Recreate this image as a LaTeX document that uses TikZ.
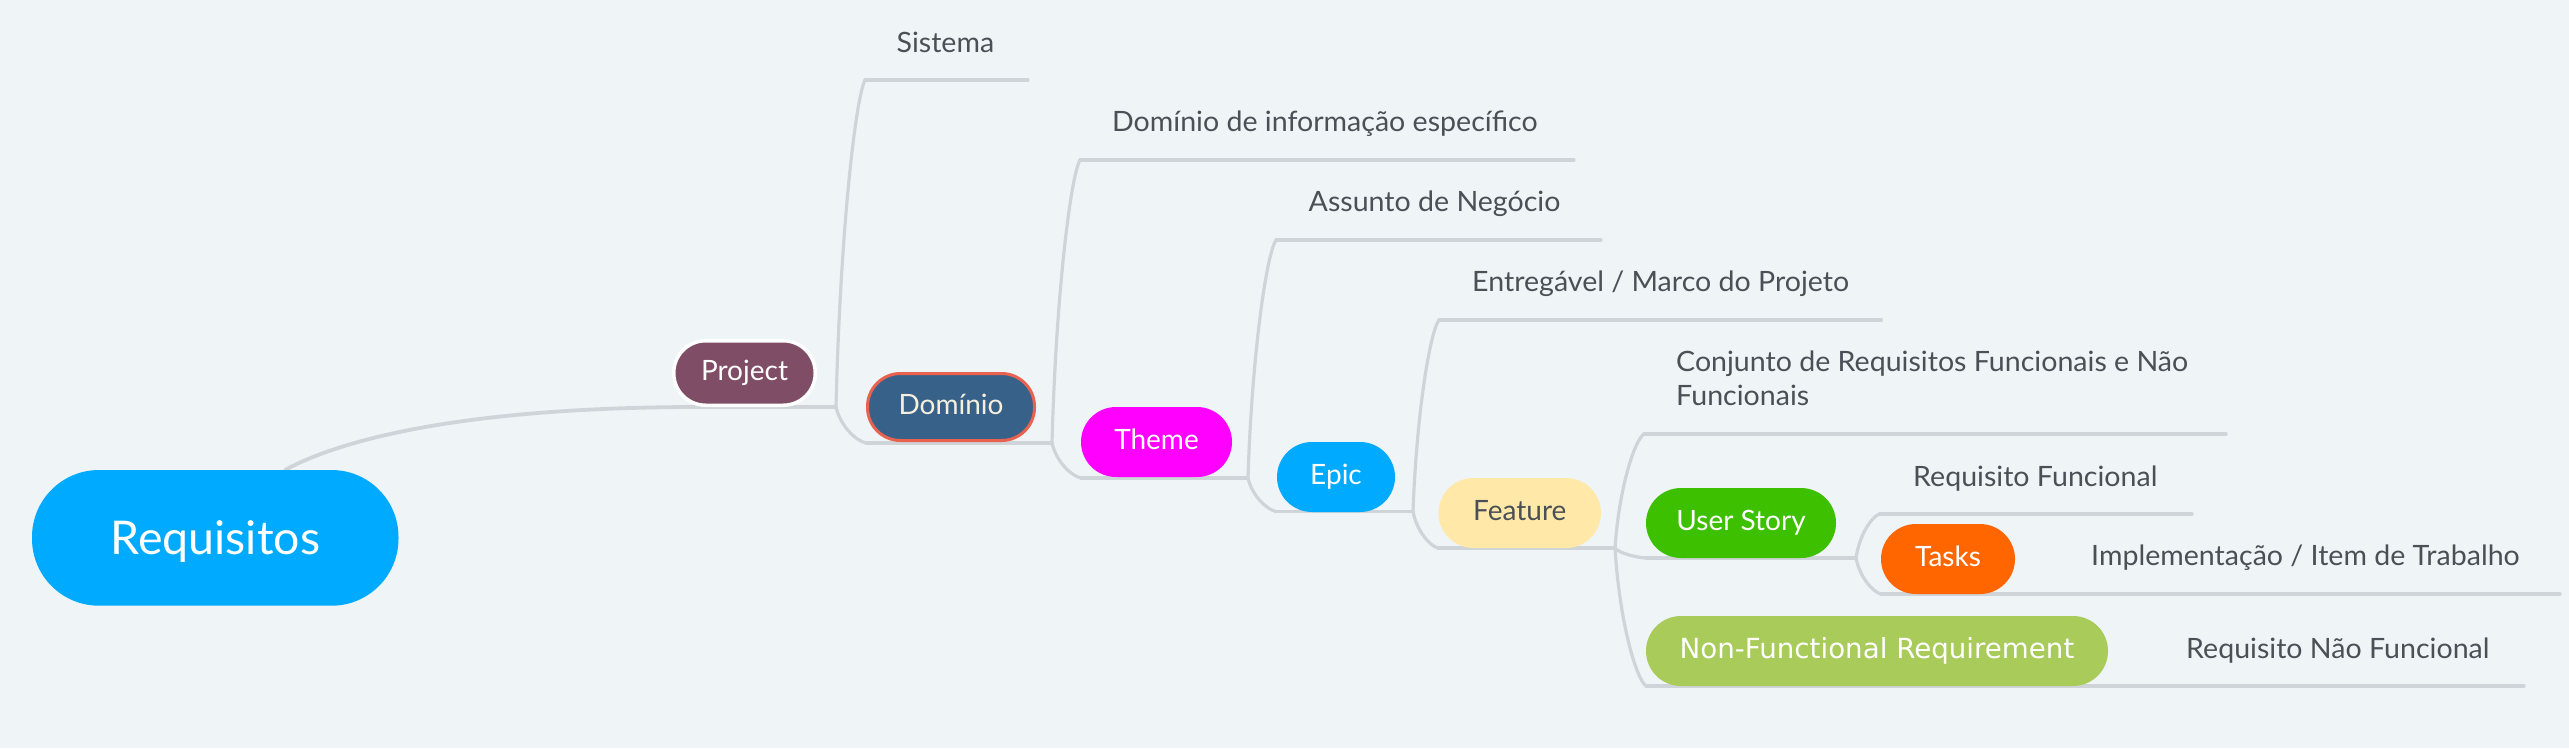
\documentclass[tikz,border=0pt]{standalone}
\usepackage{fontspec}
\setmainfont{Lato}
\newfontfamily\lblfont[FakeStretch=1.02]{Lato}
\newfontfamily\dvfont{DejaVu Sans}
\usetikzlibrary{calc}
\definecolor{bg}{RGB}{239,244,247}
\definecolor{ln}{RGB}{207,212,216}
\definecolor{tx}{RGB}{75,80,86}
\definecolor{creq}{RGB}{0,170,255}
\definecolor{cproj}{RGB}{127,77,101}
\definecolor{cdom}{RGB}{56,97,137}
\definecolor{cdomb}{RGB}{233,98,79}
\definecolor{ctheme}{RGB}{255,0,255}
\definecolor{cfeat}{RGB}{255,232,168}
\definecolor{cus}{RGB}{60,192,0}
\definecolor{ctask}{RGB}{255,102,0}
\definecolor{cnfr}{RGB}{168,203,90}
\definecolor{cream}{RGB}{245,240,222}
\newcommand\xbranch[2]{%
  \draw[branch] let \p1=(#1), \p2=(#2) in (\p1) .. controls
   ({\x1+0.14*((\x2)-(\x1))},{\y1+0.52*((\y2)-(\y1))}) and
   ({\x1+0.66*((\x2)-(\x1))},{\y2-0.06*((\y2)-(\y1))}) .. (\p2);}
\begin{document}
\begin{tikzpicture}[x=1pt,y=-1pt,
  branch/.style={draw=ln,line width=3.2pt,line cap=round},
  pill/.style={rectangle,rounded corners=35pt,inner sep=0pt,minimum height=70pt,
    font=\fontsize{28}{33}\selectfont,text=white,text height=20pt,text depth=6pt},
  lbl/.style={anchor=base west,inner sep=0pt,text=tx,font=\lblfont\fontsize{28}{33.3}\selectfont}]
\fill[bg] (0,0) rectangle (2569,748);
\useasboundingbox (0,0) rectangle (2569,748);

% junctions and underline ends
\coordinate (j1) at (836,407);
\coordinate (j2) at (1052,443);
\coordinate (j3) at (1248,478);
\coordinate (j4) at (1413,511.5);
\coordinate (j5) at (1615,548);
\coordinate (j6) at (1856,558);
\coordinate (us1) at (865,80);    \coordinate (ue1) at (1028,80);
\coordinate (us2) at (1080,160);  \coordinate (ue2) at (1574,160);
\coordinate (us3) at (1276,240);  \coordinate (ue3) at (1601,240);
\coordinate (us4) at (1439,320);  \coordinate (ue4) at (1881.5,320);
\coordinate (us5) at (1644,434);  \coordinate (ue5) at (2226,434);
\coordinate (us6) at (1879.5,514);\coordinate (ue6) at (2192,514);
\coordinate (ud) at (866,443);
\coordinate (ut) at (1081,478);
\coordinate (ue) at (1276,511.5);
\coordinate (uf) at (1438,548);
\coordinate (uu) at (1646,558);
\coordinate (uk) at (1881,594);   \coordinate (uke) at (2560,594);
\coordinate (un) at (1646,686);   \coordinate (une) at (2524,686);
\coordinate (rtop) at (285,470);

% main branch
\draw[draw=ln,line width=3.8pt,line cap=round] (rtop) .. controls (340,440) and (460,408) .. (690,407) -- (j1);

% underlines
\foreach \a/\b in {us1/ue1,us2/ue2,us3/ue3,us4/ue4,us5/ue5,us6/ue6,ud/j2,ut/j3,ue/j4,uf/j5,uu/j6,uk/uke,un/une}
  \draw[branch] (\a) -- (\b);

% curved connectors
\xbranch{j1}{us1}\xbranch{j1}{ud}
\xbranch{j2}{us2}\xbranch{j2}{ut}
\xbranch{j3}{us3}\xbranch{j3}{ue}
\xbranch{j4}{us4}\xbranch{j4}{uf}
\xbranch{j5}{us5}\xbranch{j5}{uu}\xbranch{j5}{un}
\xbranch{j6}{us6}\xbranch{j6}{uk}

% nodes
\node[pill,fill=creq,minimum width=366.5pt,minimum height=135.7pt,rounded corners=67pt,
  font=\fontsize{46.5}{50}\selectfont,text height=33pt,text depth=0pt] (req) at (215.25,537.85) {Requisitos};
\node[pill,fill=cproj,draw=white,line width=3.5pt,minimum width=141.5pt,minimum height=64.5pt,rounded corners=32pt] (proj) at (744.5,373) {Project};
\node[pill,fill=cdom,draw=cdomb,line width=3pt,minimum width=167pt,minimum height=67pt,rounded corners=33pt,text=cream] (dom) at (951,407) {Domínio};
\node[pill,fill=ctheme,minimum width=151pt] (theme) at (1156.5,442) {Theme};
\node[pill,fill=creq,minimum width=118pt] (epic) at (1336,477) {Epic};
\node[pill,fill=cfeat,minimum width=162.5pt,text=tx] (feat) at (1519.75,513) {Feature};
\node[pill,fill=cus,minimum width=190pt] (us) at (1741,523) {User Story};
\node[pill,fill=ctask,minimum width=134pt] (tasks) at (1948,559) {Tasks};
\node[pill,fill=cnfr,minimum width=462pt,font=\dvfont\fontsize{27.7}{33}\selectfont,text height=20pt,text depth=6pt] (nfr) at (1877,651) {Non-Functional Requirement};

% labels
\node[lbl] (l1) at (896.5,52) {Sistema};
\node[lbl] (l2) at (1112,131.7) {Domínio de informação específico};
\node[lbl] (l3) at (1308.5,211.7) {Assunto de Negócio};
\node[lbl] (l4) at (1472,291.7) {Entregável / Marco do Projeto};
\node[lbl,align=left] (l5) at (1676,405) {Conjunto de Requisitos Funcionais e Não\\Funcionais};
\node[lbl] (l6) at (1913,486) {Requisito Funcional};
\node[lbl] (l7) at (2091,565) {Implementação / Item de Trabalho};
\node[lbl] (l8) at (2186,658) {Requisito Não Funcional};
\end{tikzpicture}
\end{document}
